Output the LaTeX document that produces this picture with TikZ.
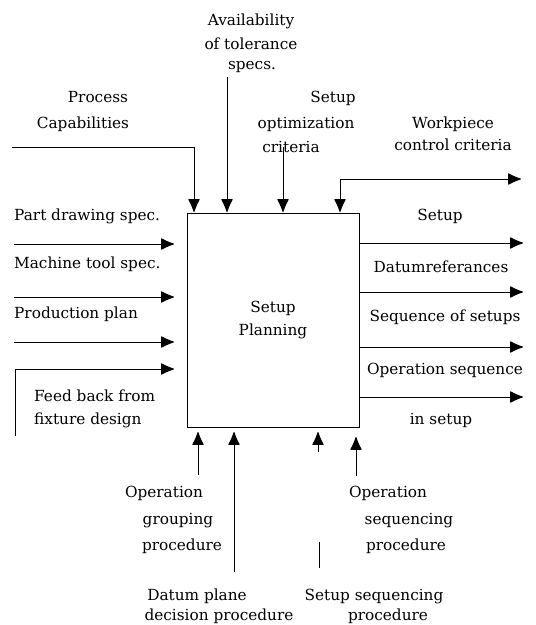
\documentclass[tikz,border=0pt]{standalone}
\usepackage{fontspec}
\setmainfont{DejaVu Serif}
\usetikzlibrary{arrows.meta}
\begin{document}
\begin{tikzpicture}[x=1pt,y=-1pt,
  every node/.style={font=\fontsize{15.3}{18}\selectfont, inner sep=0pt},
  lbl/.style={anchor=base},
  lblw/.style={anchor=base west},
  conn/.style={line width=0.9pt, -{Latex[length=14pt,width=12pt,round]}},
  plain/.style={line width=0.9pt},
  boxstyle/.style={draw, line width=1pt, minimum width=172pt, minimum height=214pt, align=center, font=\fontsize{15.3}{23}\selectfont}]
\useasboundingbox (0,0) rectangle (536,625);

% main box
\node[boxstyle] (box) at (273,320) {Setup\\Planning};

% top labels
\node[lbl] (av1) at (251,25) {Availability};
\node[lbl] (av2) at (251,49) {of tolerance};
\node[lbl] (av3) at (252,69) {specs.};
\node[lbl] (pc1) at (98,102) {Process};
\node[lbl] (pc2) at (83,128) {Capabilities};
\node[lbl] (so1) at (333,102) {Setup};
\node[lbl] (so2) at (306,128) {optimization};
\node[lbl] (so3) at (291,152) {criteria};
\node[lbl] (wc1) at (453,128) {Workpiece};
\node[lbl] (wc2) at (453,150) {control criteria};

% left labels
\node[lblw] (ld1) at (14,220) {Part drawing spec.};
\node[lblw] (ld2) at (14,268) {Machine tool spec.};
\node[lblw] (ld3) at (14,318) {Production plan};
\node[lblw] (ld4) at (34,401) {Feed back from};
\node[lblw] (ld5) at (34,424) {fixture design};

% right labels
\node[lbl] (rt1) at (440,220) {Setup};
\node[lbl] (rt2) at (441,272) {Datumreferances};
\node[lbl] (rt3) at (445,321) {Sequence of setups};
\node[lbl] (rt4) at (445,374) {Operation sequence};
\node[lbl] (rt5) at (441,424) {in setup};

% bottom labels
\node[lbl] (bo1) at (164,497) {Operation};
\node[lbl] (bo2) at (178,524) {grouping};
\node[lbl] (bo3) at (182,550) {procedure};
\node[lbl] (bd1) at (197,600) {Datum plane};
\node[lbl] (bd2) at (219,620) {decision procedure};
\node[lbl] (bs1) at (388,497) {Operation};
\node[lbl] (bs2) at (409,524) {sequencing};
\node[lbl] (bs3) at (406,550) {procedure};
\node[lbl] (bq1) at (374,600) {Setup sequencing};
\node[lbl] (bq2) at (388,620) {procedure};

% coordinates
\coordinate (pcS) at (12,147);
\coordinate (pcC) at (194,147);
\coordinate (pcE) at (194,212);
\coordinate (avS) at (227,77);
\coordinate (avE) at (227,212);
\coordinate (soS) at (283,147);
\coordinate (soE) at (283,212);
\coordinate (wcE) at (340,212);
\coordinate (wcR) at (521,179);

\coordinate (l1S) at (14,244); \coordinate (l1E) at (174,244);
\coordinate (l2S) at (14,297); \coordinate (l2E) at (174,297);
\coordinate (l3S) at (14,342); \coordinate (l3E) at (174,342);
\coordinate (l4S) at (15,436); \coordinate (l4E) at (174,369);

\coordinate (r1E) at (523,243);
\coordinate (r2E) at (523,292);
\coordinate (r3E) at (523,347);
\coordinate (r4E) at (523,397);

\coordinate (b1S) at (198,475); \coordinate (b1E) at (198,432);
\coordinate (b2S) at (234,572); \coordinate (b2E) at (234,432);
\coordinate (b3S) at (318,452); \coordinate (b3E) at (318,432);
\coordinate (b3a) at (319,542); \coordinate (b3b) at (319,568);
\coordinate (b4S) at (356,476); \coordinate (b4E) at (356,437);

% top connectors
\draw[conn] (pcS) -- (pcC) -- (pcE);
\draw[conn] (avS) -- (avE);
\draw[conn] (soS) -- (soE);
\draw[plain, {Latex[length=14pt,width=12pt,round]}-{Latex[length=14pt,width=12pt,round]}] (wcE) |- (wcR);

% left connectors
\draw[conn] (l1S) -- (l1E);
\draw[conn] (l2S) -- (l2E);
\draw[conn] (l3S) -- (l3E);
\draw[conn] (l4S) |- (l4E);

% right connectors
\draw[conn] (box.east |- r1E) -- (r1E);
\draw[conn] (box.east |- r2E) -- (r2E);
\draw[conn] (box.east |- r3E) -- (r3E);
\draw[conn] (box.east |- r4E) -- (r4E);

% bottom connectors
\draw[conn] (b1S) -- (b1E);
\draw[conn] (b2S) -- (b2E);
\draw[conn] (b3S) -- (b3E);
\draw[plain] (b3a) -- (b3b);
\draw[conn] (b4S) -- (b4E);
\end{tikzpicture}
\end{document}
